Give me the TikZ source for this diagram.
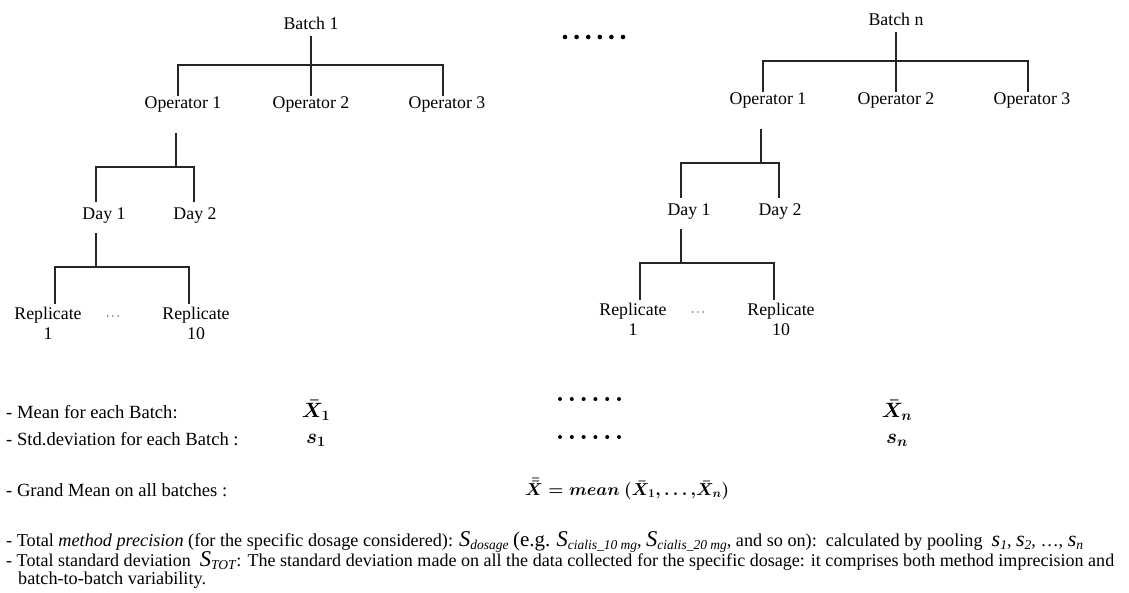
\documentclass[tikz,border=0pt]{standalone}
\usepackage{fontspec}
\usepackage{amsmath}
\setmainfont{Liberation Serif}
\newcommand{\bigS}[1]{{\fontsize{22.5}{22}\selectfont\textit{S}}\raisebox{-3.5pt}{\fontsize{13.5}{13}\selectfont\textit{#1}}}
\newcommand{\smalls}[1]{{\fontsize{22}{22}\selectfont\textit{s}}\raisebox{-3.5pt}{\fontsize{13.5}{13}\selectfont\textit{#1}}}
\begin{document}
\begin{tikzpicture}[x=1pt,y=-1pt,
  lbl/.style={font=\fontsize{17.8}{17}\selectfont, inner sep=0pt, text height=12pt, text depth=4pt},
  replbl/.style={font=\fontsize{17.8}{20}\selectfont, inner sep=0pt, align=center, anchor=north},
  conn/.style={line width=1.4pt, draw=black!85},
  rowtxt/.style={font=\fontsize{18.6}{18}\selectfont, inner sep=0pt, anchor=west},
  mathtxt/.style={font=\fontsize{22}{22}\selectfont, inner sep=0pt},
  txtline/.style={font=\fontsize{18.2}{18}\selectfont, inner sep=0pt, anchor=base west},
  bigdot/.style={fill=black, draw=none}]
\useasboundingbox (0,0) rectangle (1129,592);

\foreach \t/\dx/\dy/\lab in {1/0/0/1, 2/585/-4/n}{
\begin{scope}[shift={(\dx,\dy)}]
  \node[lbl] (b\t) at (311,25) {Batch \lab};
  \node[lbl] (o\t a) at (183,104) {Operator 1};
  \node[lbl] (o\t b) at (311,104) {Operator 2};
  \node[lbl] (o\t c) at (447,104) {Operator 3};
  \node[lbl] (d\t a) at (104,215) {Day 1};
  \node[lbl] (d\t b) at (195,215) {Day 2};
  \node[replbl] (r\t a) at (48,307) {Replicate\\1};
  \node[replbl] (r\t b) at (196,307) {Replicate\\10};
  \node[font=\fontsize{13}{13}\selectfont, inner sep=0pt] (r\t d) at (114,317) {$\cdots$};
  \coordinate (j\t a) at (311,65);
  \coordinate (j\t b) at (176,167);
  \coordinate (j\t c) at (96,267);
  \draw[conn] ([yshift=-3pt]b\t.south) -- (b\t.south |- o\t b.north);
  \draw[conn] ([xshift=-5pt]o\t a.north) |- (j\t a) -| ([xshift=-4pt]o\t c.north);
  \draw[conn] ([xshift=-7pt,yshift=-21pt]o\t a.south) -- (j\t b);
  \draw[conn] ([xshift=-8pt,yshift=5pt]d\t a.north) |- (j\t b) -| ([xshift=-1pt,yshift=5pt]d\t b.north);
  \draw[conn] ([xshift=-8pt,yshift=-10pt]d\t a.south) -- (j\t c);
  \draw[conn] ([xshift=7pt,yshift=3pt]r\t a.north) |- (j\t c) -| ([xshift=-7pt,yshift=3pt]r\t b.north);
\end{scope}
}

% dots between batches
\foreach \i in {0,...,5} \fill[bigdot] (565+11.6*\i,37) circle (2.3);
\foreach \i in {0,...,5} \fill[bigdot] (560+11.8*\i,399) circle (2.0);
\foreach \i in {0,...,5} \fill[bigdot] (560+11.8*\i,437) circle (2.0);

% rows
\node[rowtxt] (mrow) at (6,412) {- Mean for each Batch:};
\node[rowtxt] (srow) at (6,439) {- Std.deviation for each Batch :};
\node[mathtxt] (xb1) at (316,410) {$\boldsymbol{\bar{X}_1}$};
\node[mathtxt] (sd1) at (316,440) {$\boldsymbol{s_1}$};
\node[mathtxt] (xbn) at (897,410) {$\boldsymbol{\bar{X}_n}$};
\node[mathtxt] (sdn) at (897,440) {$\boldsymbol{s_n}$};

\node[rowtxt] (grow) at (6,490) {- Grand Mean on all batches :};
\node[mathtxt, anchor=west, font=\fontsize{17.5}{18}\selectfont] (gm) at (525,489) {$\boldsymbol{\bar{\bar{X}} = mean\ (\bar{X}_1, \ldots{,}\bar{X}_n)}$};

\node[txtline] (l1) at (6,546) {- Total \textit{method precision} (for the specific dosage considered): \bigS{dosage} {\fontsize{21}{21}\selectfont(e.g.} \bigS{cialis\_10 mg}, \bigS{cialis\_20 mg}, and so on):\ \ calculated by pooling \ \smalls{1}, \smalls{2}, \dots, \smalls{n}};
\node[txtline, font=\fontsize{18.05}{18}\selectfont] (l2) at (6,566) {- Total standard deviation \ \bigS{TOT}: The standard deviation made on all the data collected for the specific dosage: it comprises both method imprecision and};
\node[txtline] (l3) at (18,584) {batch-to-batch variability.};
\end{tikzpicture}
\end{document}
